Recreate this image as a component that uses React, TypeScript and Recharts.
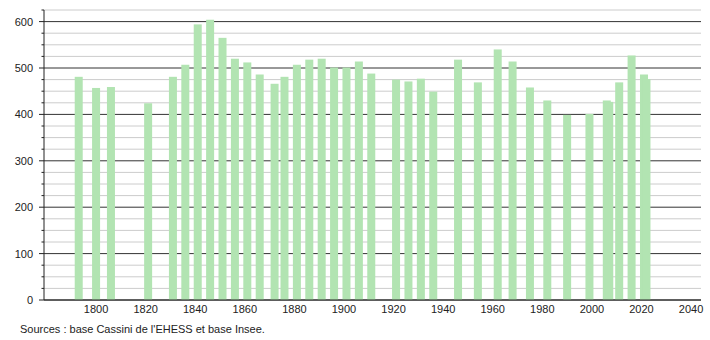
import { BarChart, Bar, XAxis, YAxis, CartesianGrid } from "recharts";

const years = [
  1793, 1800, 1806, 1821, 1831, 1836, 1841, 1846, 1851, 1856, 1861, 1866, 1872,
  1876, 1881, 1886, 1891, 1896, 1901, 1906, 1911, 1921, 1926, 1931, 1936, 1946,
  1954, 1962, 1968, 1975, 1982, 1990, 1999, 2006, 2007, 2011, 2016, 2021, 2022,
];
const population = [
  481, 457, 459, 424, 481, 507, 594, 604, 565, 520, 512, 486, 466,
  481, 507, 518, 520, 501, 501, 514, 488, 475, 471, 477, 449, 518,
  469, 540, 514, 458, 430, 399, 401, 430, 427, 469, 527, 486, 476,
];
const xTicks = [1800, 1820, 1840, 1860, 1880, 1900, 1920, 1940, 1960, 1980, 2000, 2020, 2040];
const yTicks = [0, 25, 50, 75, 100, 125, 150, 175, 200, 225, 250, 275, 300, 325, 350, 375, 400, 425, 450, 475, 500, 525, 550, 575, 600, 625];
const source = "Sources : base Cassini de l'EHESS et base Insee.";

const data = years.map((year, i) => ({ year, value: population[i] }));

const FONT = "'Liberation Sans', Arial, sans-serif";
const BAR_W = 8;

function YTick(props: any) {
  const { x, y, payload } = props;
  const major = payload.value % 100 === 0;
  return (
    <g>
      <line x1={x - (major ? 5 : 2.5)} x2={x} y1={y} y2={y} stroke="#222" />
      {major && (
        <text x={x - 11} y={y} dy={4} textAnchor="end" fontSize={11} fill="#222" fontFamily={FONT}>
          {payload.value}
        </text>
      )}
    </g>
  );
}

function GridLine(props: any) {
  const { x1, x2, y1, y2, index } = props;
  const major = yTicks[index] % 100 === 0;
  return (
    <line
      key={`g-${index}`}
      x1={x1}
      x2={x2}
      y1={y1}
      y2={y2}
      stroke={major ? "#333333" : "#cccccc"}
      strokeWidth={1}
    />
  );
}

function NarrowBar(props: any) {
  const { x, y, width, height } = props;
  return <rect x={x + width / 2 - BAR_W / 2} y={y} width={BAR_W} height={height} fill="#b2e4b2" />;
}

export default function App() {
  return (
    <div style={{ position: "absolute", left: 0, top: 0, width: 710, height: 340, background: "#fff" }}>
      <BarChart
        width={710}
        height={340}
        data={data}
        margin={{ top: 10, right: 9, left: 0, bottom: 20 }}
      >
        <CartesianGrid vertical={false} horizontal={(p: any) => <GridLine {...p} />} />
        <XAxis
          dataKey="year"
          type="number"
          domain={[1779, 2044]}
          ticks={xTicks}
          tickLine={false}
          axisLine={{ stroke: "#222" }}
          tick={{ fontSize: 11, fill: "#222", fontFamily: FONT, dy: -2 }}
          height={20}
          tickMargin={1}
        />
        <YAxis
          width={44}
          domain={[0, 625]}
          ticks={yTicks}
          interval={0}
          tickLine={false}
          tickSize={0}
          tickMargin={0}
          axisLine={{ stroke: "#222" }}
          tick={(p: any) => <YTick {...p} />}
        />
        <Bar dataKey="value" fill="#b2e4b2" shape={(p: any) => <NarrowBar {...p} />} isAnimationActive={false} />
      </BarChart>
      <div
        style={{
          position: "absolute",
          left: 20,
          top: 323,
          fontSize: 11,
          fontFamily: FONT,
          color: "#222",
        }}
      >
        {source}
      </div>
    </div>
  );
}
